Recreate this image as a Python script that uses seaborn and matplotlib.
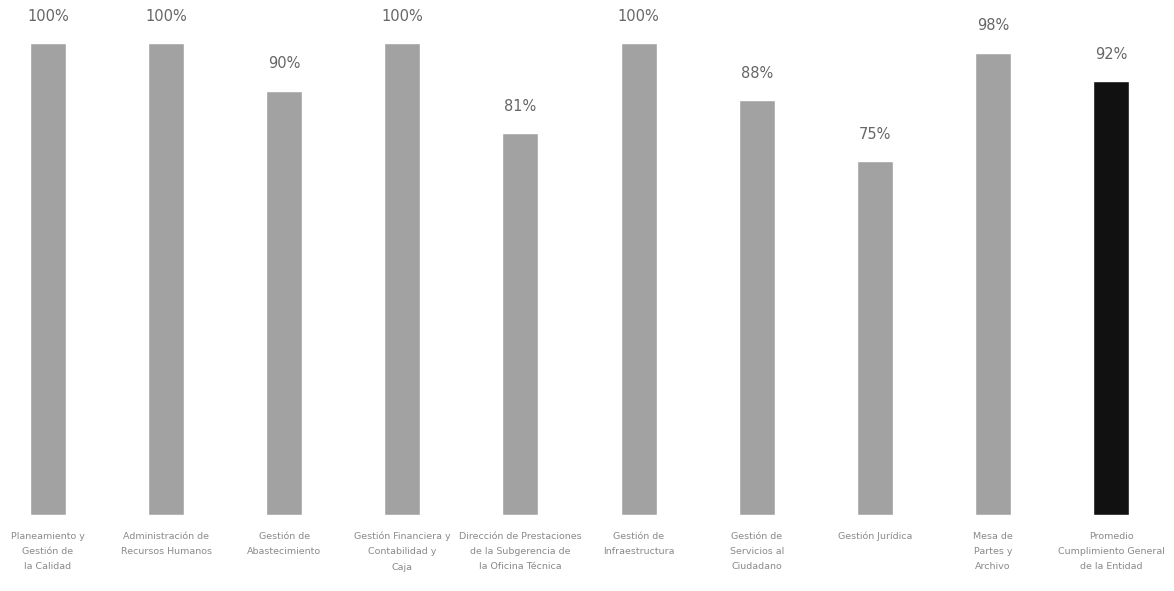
import matplotlib
matplotlib.use("Agg")
import matplotlib.pyplot as plt
import seaborn as sns
import pandas as pd

categories = [
    "Planeamiento y\nGestión de\nla Calidad",
    "Administración de\nRecursos Humanos",
    "Gestión de\nAbastecimiento",
    "Gestión Financiera y\nContabilidad y\nCaja",
    "Dirección de Prestaciones\nde la Subgerencia de\nla Oficina Técnica",
    "Gestión de\nInfraestructura",
    "Gestión de\nServicios al\nCiudadano",
    "Gestión Jurídica",
    "Mesa de\nPartes y\nArchivo",
    "Promedio\nCumplimiento General\nde la Entidad",
]
values = [100, 100, 90, 100, 81, 100, 88, 75, 98, 92]
value_labels = ["100%", "100%", "90%", "100%", "81%", "100%", "88%", "75%", "98%", "92%"]

sns.set_theme(style="white")
plt.rcParams['font.family'] = ['DejaVu Sans']

df = pd.DataFrame({"cat": categories, "val": values})
colors = ["#a2a2a2"] * 9 + ["#111111"]

fig = plt.figure(figsize=(11.74, 5.91), dpi=100)
ax = fig.add_axes([0, 0.1286, 1, 0.798])
sns.barplot(data=df, x="cat", y="val", hue="cat", palette=colors, legend=False,
            width=0.305, ax=ax, saturation=1)
ax.set_xlim(-0.406, 9.533)
ax.set_ylim(0, 100)
for i, (v, t) in enumerate(zip(values, value_labels)):
    ax.annotate(t, (i, v), xytext=(0, 14), textcoords="offset points",
                ha="center", va="bottom", fontsize=10.5, color="#666666",
                annotation_clip=False)
ax.set_xlabel("")
ax.set_ylabel("")
ax.set_yticks([])
ax.tick_params(axis="x", length=0, pad=12, labelsize=6.8, labelcolor="#8a8a8a")
for lbl in ax.get_xticklabels():
    lbl.set_linespacing(1.9)
for s in ax.spines.values():
    s.set_visible(False)
fig.savefig("out.png", dpi=100, facecolor="white")
